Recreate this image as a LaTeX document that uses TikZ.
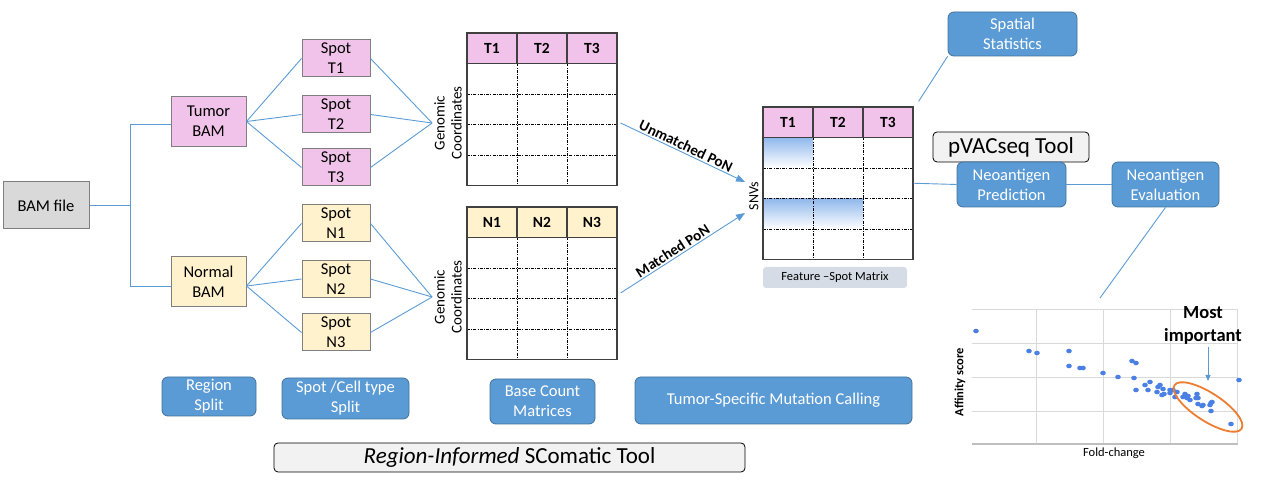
\documentclass[tikz,border=0pt]{standalone}
\usepackage{fontspec}
\setmainfont{Carlito}
\usetikzlibrary{arrows.meta}

\begin{document}
\begin{tikzpicture}[x = 1pt, y = -1pt,
  txt/.style = {font = \fontsize{16.5}{20}\selectfont},
  box/.style = {txt, draw = boxgray, line width = 1pt, align = center, inner sep = 0pt},
  spotbox/.style = {box, minimum width = 68pt, minimum height = 37pt},
  bambox/.style = {box, minimum width = 75pt, minimum height = 50pt},
  bluebox/.style = {txt, fill = boxblue, draw = boxblueline, line width = 0.8pt, rounded corners = 6pt, text = white, align = center, inner sep = 0pt},
  greybox/.style = {fill = lightgrey, draw = black, line width = 0.8pt, rounded corners = 4pt, inner sep = 0pt},
  link/.style = {draw = linkblue, line width = 0.9pt},
  pon/.style = {link, -{Triangle[length = 9pt, width = 7pt]}},
  ponlabel/.style = {font = \bfseries\fontsize{15}{17}\selectfont, inner sep = 1.5pt},
  frame/.style = {draw = tableline, line width = 1.2pt},
  dotline/.style = {draw = black, line width = 0.7pt, dash pattern = on 3pt off 1.2pt on 1pt off 1.2pt},
  headtext/.style = {font = \bfseries\fontsize{15.5}{18}\selectfont},
  gctext/.style = {rotate = 90, align = center, inner sep = 2pt, font = \fontsize{15}{17}\selectfont}]
\definecolor{boxgray}{HTML}{7F7F7F}
\definecolor{tumorpink}{HTML}{F2C3EA}
\definecolor{normalyellow}{HTML}{FFF2CC}
\definecolor{bamgrey}{HTML}{D9D9D9}
\definecolor{boxblue}{HTML}{5B9BD5}
\definecolor{boxblueline}{HTML}{41719C}
\definecolor{linkblue}{HTML}{5B9BD5}
\definecolor{lightgrey}{HTML}{F2F2F2}
\definecolor{labelgrey}{HTML}{D6DCE5}
\definecolor{shadeblue}{HTML}{8FB8EC}
\definecolor{dotblue}{HTML}{4A7FE3}
\definecolor{gridgrey}{HTML}{D9D9D9}
\definecolor{axisgrey}{HTML}{BFBFBF}
\definecolor{ringorange}{HTML}{ED7D31}
\definecolor{tableline}{HTML}{404040}
\useasboundingbox (0,0) rectangle (1262,502);
\pgfmathsetmacro\cw{50}
\pgfmathsetmacro\rh{30.5}
\node [box, fill = bamgrey, minimum width = 86pt, minimum height = 47pt] (bam) at (46,205.5) {BAM file};
\node [bambox, fill = tumorpink] (tumor) at (208.5,121.5) {Tumor\\BAM};
\node [bambox, fill = normalyellow] (normal) at (208.5,281.5) {Normal\\BAM};
\draw [link] (bam.east) -- ++(41,0) |- ([yshift = -2.5pt]tumor.west);
\draw [link] (bam.east) -- ++(41,0) |- ([yshift = -4.5pt]normal.west);
\node [gctext] (gcT) at (448,123) {Genomic\\Coordinates};
\node [gctext] (gcN) at (448,297) {Genomic\\Coordinates};
\foreach \n/\sy in {1/58.5, 2/114.5, 3/167.5} {
  \node [spotbox, fill = tumorpink] (spotT\n) at (336,\sy) {Spot\\T\n};
  \draw [link] (tumor.east) -- (spotT\n.west);
  \draw [link] (spotT\n.east) -- (gcT.north);
}
\foreach \n/\sy in {1/223.5, 2/279, 3/332.5} {
  \node [spotbox, fill = normalyellow] (spotN\n) at (336,\sy) {Spot\\N\n};
  \draw [link] ([yshift = -4.5pt]normal.east) -- (spotN\n.west);
  \draw [link] (spotN\n.east) -- (gcN.north);
}
\shade [top color = shadeblue, bottom color = white] (763,137.5) rectangle (813,168);
\shade [top color = shadeblue, bottom color = white] (763,198.5) rectangle (863,229);
\foreach \tabname/\tabx/\taby/\tabcol/\tablet in {tabT/467/33/tumorpink/T, tabN/467/207/normalyellow/N, tabF/763/107/tumorpink/T} {
  \draw [fill = \tabcol, draw = none] (\tabx,\taby) rectangle ++(3*\cw,\rh);
  \foreach \r in {2,3,4} \draw [dotline] (\tabx,\taby+\r*\rh) -- ++(3*\cw,0);
  \foreach \c in {1,2} \draw [dotline] (\tabx+\c*\cw,\taby+\rh) -- ++(0,4*\rh);
  \foreach \c in {1,2} \draw [frame] (\tabx+\c*\cw,\taby) -- ++(0,\rh);
  \foreach \c in {1,2,3} \node [headtext] (\tabname-\c) at (\tabx+\c*\cw-\cw/2,\taby+\rh/2) {\tablet\c};
  \draw [frame] (\tabx,\taby+\rh) -- ++(3*\cw,0);
  \node [frame, minimum width = 3*\cw, minimum height = 5*\rh, inner sep = 0pt] (\tabname) at (\tabx+1.5*\cw,\taby+2.5*\rh) {};
}
\node [rotate = 90, inner sep = 1pt, font = \fontsize{14}{16}\selectfont] (snv) at (754,196) {SNVs};
\draw [pon] ([xshift = 3pt, yshift = -13.75pt]tabT.east) -- ([xshift = -9pt, yshift = 14pt]snv.center) node [midway, above, sloped, ponlabel] {Unmatched PoN};
\draw [pon] ([xshift = 3pt, yshift = -9.75pt]tabN.east) -- ([xshift = -9pt, yshift = -17pt]snv.center) node [pos = 0.45, above, sloped, ponlabel] {Matched PoN};
\node [fill = labelgrey, rounded corners = 3pt, minimum width = 144pt, minimum height = 21pt, inner sep = 0pt, font = \fontsize{12.5}{14}\selectfont] (featlbl) at (835,277.5) {Feature –Spot Matrix};
\node [bluebox, minimum width = 129pt, minimum height = 44pt] (spatial) at (1012.5,34) {Spatial\\Statistics};
\draw [link] ([xshift = 5pt, yshift = 5pt]tabF.north east) -- (spatial.south west);
\node [greybox, minimum width = 156pt, minimum height = 30pt, font = \fontsize{23}{26}\selectfont] (pvac) at (1011,147) {pVACseq Tool};
\node [bluebox, minimum width = 109pt, minimum height = 45pt] (pred) at (1011.5,184.5) {Neoantigen\\Prediction};
\node [bluebox, minimum width = 107pt, minimum height = 45pt] (eval) at (1165.5,184.5) {Neoantigen\\Evaluation};
\draw [link] (tabF.east) -- (pred.west);
\draw [link] (pred.east) -- (eval.west);
\coordinate (plottop) at (1100,298);
\draw [link] (eval.south) -- (plottop);
\node [bluebox, minimum width = 94pt, minimum height = 39pt] (regsplit) at (209,396.5) {Region\\Split};
\node [bluebox, minimum width = 127pt, minimum height = 41pt] (spotsplit) at (345.5,398.5) {Spot /Cell type\\Split};
\node [bluebox, minimum width = 105pt, minimum height = 45pt] (basecount) at (542.5,401.5) {Base Count\\Matrices};
\node [bluebox, minimum width = 277pt, minimum height = 47pt] (calling) at (773.5,400.5) {Tumor-Specific Mutation Calling};
\node [greybox, minimum width = 471pt, minimum height = 29pt, font = \fontsize{23}{26}\selectfont] (scomatic) at (509.5,457.5) {\textit{Region-Informed} SComatic Tool};
\foreach \gy in {309,343,377,411} \draw [gridgrey, line width = 0.8pt] (972,\gy) -- (1238,\gy);
\foreach \gx in {1036,1103,1170,1237} \draw [gridgrey, line width = 0.8pt] (\gx,309) -- (\gx,444);
\draw [axisgrey, line width = 1.6pt] (972,444) -- (1238,444);
\foreach \px/\py in {976/331, 1029/351, 1037/353, 1069/351, 1069/366, 1080/368, 1083/368, 1103/373, 1118/377, 1132/361, 1136/363, 1134/378, 1136/390, 1145/385, 1148/390, 1150/382, 1157/392, 1158/387, 1160/385, 1163/389, 1162/395, 1164/394, 1170/390, 1173/390, 1170/393, 1177/392, 1175/397, 1185/394, 1188/396, 1187/398, 1190/400, 1183/397, 1197/394, 1198/398, 1196/398, 1198/404, 1202/406, 1203/405, 1211/403, 1212/402, 1210/405, 1211/411, 1231/424, 1239/380}
  \fill [dotblue] (\px,\py) ellipse (2.8 and 2.3);
\draw [ringorange, line width = 1.8pt, rotate around = {-33:(1208,407)}] (1208,407) ellipse (40 and 14);
\node [rotate = 90, font = \bfseries\fontsize{12.5}{14}\selectfont] (affinity) at (960,382) {Affinity score};
\node [font = \fontsize{12.5}{14}\selectfont] (foldchange) at (1114,453) {Fold-change};
\node [align = center, font = \bfseries\fontsize{18.5}{23}\selectfont] (most) at (1203,325) {Most\\important};
\coordinate (mosttip) at (1208,381);
\draw [link, -{Triangle[length = 6pt, width = 5pt]}] (most.south -| mosttip) -- (mosttip);
\end{tikzpicture}
\end{document}
